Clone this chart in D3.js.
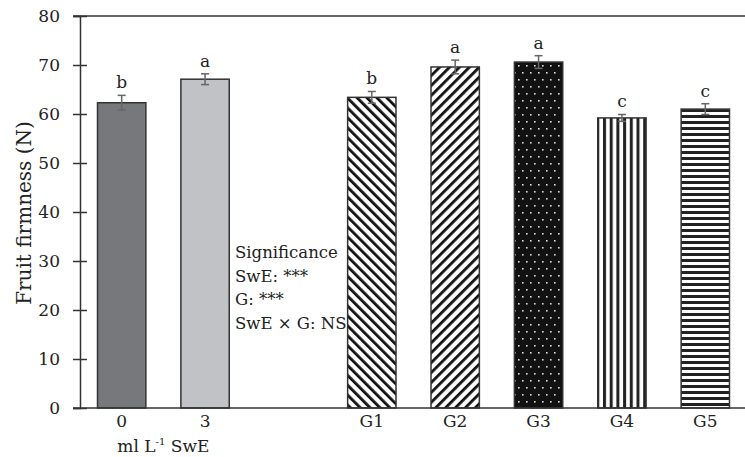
<!DOCTYPE html>
<html>
<head>
<meta charset="utf-8">
<script src="https://cdn.jsdelivr.net/npm/d3@7"></script>
<style>
  body { margin: 0; background: #fff; }
  text { font-family: "DejaVu Serif", serif; fill: #222; }
</style>
</head>
<body>
<svg width="745" height="457"></svg>
<script>
// data
var categories = ["0", "3", "gap", "G1", "G2", "G3", "G4", "G5"];
var tickLabels = ["0", "3", "", "G1", "G2", "G3", "G4", "G5"];
var values = [62.3, 67.1, null, 63.4, 69.6, 70.6, 59.2, 61.0];
var errors = [1.5, 1.1, null, 1.2, 1.4, 1.3, 0.7, 1.1];
var letters = ["b", "a", "", "b", "a", "a", "c", "c"];
var fills = ["#77787c", "#c1c2c5", "none", "url(#diagDown)", "url(#diagUp)", "url(#dots)", "url(#vert)", "url(#horiz)"];
var sigLines = ["Significance", "SwE: ***", "G: ***", "SwE \u00d7 G: NS"];

var svg = d3.select("svg"),
    margin = { top: 16, left: 80, bottom: 49 },
    height = +svg.attr("height") - margin.top - margin.bottom;

var defs = svg.append("defs");

// G1 stripes going down to the right
var p1 = defs.append("pattern").attr("id", "diagDown")
    .attr("patternUnits", "userSpaceOnUse").attr("width", 7).attr("height", 7)
    .attr("patternTransform", "rotate(-45)");
p1.append("rect").attr("width", 7).attr("height", 7).attr("fill", "#fff");
p1.append("rect").attr("width", 2.8).attr("height", 7).attr("fill", "#111");

// G2 stripes going up to the right
var p2 = defs.append("pattern").attr("id", "diagUp")
    .attr("patternUnits", "userSpaceOnUse").attr("width", 7).attr("height", 7)
    .attr("patternTransform", "rotate(45)");
p2.append("rect").attr("width", 7).attr("height", 7).attr("fill", "#fff");
p2.append("rect").attr("width", 2.8).attr("height", 7).attr("fill", "#111");

// G3 black with white dots
var p3 = defs.append("pattern").attr("id", "dots")
    .attr("patternUnits", "userSpaceOnUse").attr("width", 8).attr("height", 14);
p3.append("rect").attr("width", 8).attr("height", 14).attr("fill", "#111");
p3.append("rect").attr("x", 2).attr("y", 2).attr("width", 1.6).attr("height", 1.6).attr("fill", "#ddd");
p3.append("rect").attr("x", 6).attr("y", 9).attr("width", 1.6).attr("height", 1.6).attr("fill", "#ddd");

// G4 vertical stripes
var p4 = defs.append("pattern").attr("id", "vert")
    .attr("patternUnits", "userSpaceOnUse").attr("width", 6.7).attr("height", 10);
p4.append("rect").attr("width", 6.7).attr("height", 10).attr("fill", "#fff");
p4.append("rect").attr("width", 3).attr("height", 10).attr("fill", "#222");

// G5 horizontal stripes
var p5 = defs.append("pattern").attr("id", "horiz")
    .attr("patternUnits", "userSpaceOnUse").attr("width", 10).attr("height", 6)
    .attr("y", 1);
p5.append("rect").attr("width", 10).attr("height", 6).attr("fill", "#fff");
p5.append("rect").attr("width", 10).attr("height", 3).attr("fill", "#222");

var x = d3.scaleBand()
    .domain(categories)
    .range([80, 747])
    .paddingInner(0.42)
    .paddingOuter(0.21);

var y = d3.scaleLinear()
    .domain([0, 80])
    .range([margin.top + height, margin.top]);

var data = categories.map(function(c, i) {
    return { cat: c, value: values[i], err: errors[i], letter: letters[i], fill: fills[i] };
}).filter(function(d) { return d.value != null; });

// frame: top line
svg.append("line")
    .attr("x1", 73).attr("x2", 745)
    .attr("y1", y(80)).attr("y2", y(80))
    .attr("stroke", "#333").attr("stroke-width", 1.5);

// bars
svg.selectAll(".bar")
    .data(data)
    .enter().append("rect")
    .attr("class", "bar")
    .attr("x", function(d) { return x(d.cat); })
    .attr("y", function(d) { return y(d.value); })
    .attr("width", x.bandwidth())
    .attr("height", function(d) { return y(0) - y(d.value); })
    .attr("fill", function(d) { return d.fill; })
    .attr("stroke", "#333")
    .attr("stroke-width", 1.5);

// error bars
var eb = svg.selectAll(".err")
    .data(data)
    .enter().append("g")
    .attr("class", "err")
    .attr("stroke", "#666")
    .attr("stroke-width", 1.5)
    .attr("transform", function(d) { return "translate(" + (x(d.cat) + x.bandwidth() / 2) + ",0)"; });
eb.append("line")
    .attr("y1", function(d) { return y(d.value - d.err); })
    .attr("y2", function(d) { return y(d.value + d.err); });
eb.append("line")
    .attr("x1", -4).attr("x2", 4)
    .attr("y1", function(d) { return y(d.value + d.err); })
    .attr("y2", function(d) { return y(d.value + d.err); });
eb.append("line")
    .attr("x1", -4).attr("x2", 4)
    .attr("y1", function(d) { return y(d.value - d.err); })
    .attr("y2", function(d) { return y(d.value - d.err); });

// letters
svg.selectAll(".letter")
    .data(data)
    .enter().append("text")
    .attr("class", "letter")
    .attr("x", function(d) { return x(d.cat) + x.bandwidth() / 2; })
    .attr("y", function(d) { return y(d.value + d.err) - 7; })
    .attr("text-anchor", "middle")
    .style("font-size", "17px")
    .text(function(d) { return d.letter; });

// y axis
var yAxis = svg.append("g")
    .attr("transform", "translate(80,0)")
    .call(d3.axisLeft(y).tickValues(d3.range(0, 81, 10)).tickSize(7).tickPadding(13));
yAxis.select(".domain").attr("stroke", "#333").attr("stroke-width", 1.5);
yAxis.selectAll(".tick line").attr("x1", -7).attr("x2", 7).attr("stroke", "#333").attr("stroke-width", 1.5);
yAxis.selectAll(".tick text")
    .style("font-family", "'DejaVu Serif', serif")
    .style("font-size", "17px")
    .attr("fill", "#222");

// x axis
var xAxis = svg.append("g")
    .attr("transform", "translate(0," + y(0) + ")")
    .call(d3.axisBottom(x).tickSize(0).tickPadding(7).tickFormat(function(d, i) { return tickLabels[i]; }));
xAxis.select(".domain").remove();
xAxis.selectAll(".tick text")
    .style("font-family", "'DejaVu Serif', serif")
    .style("font-size", "17px")
    .attr("fill", "#222");
svg.append("line")
    .attr("x1", 73).attr("x2", 745)
    .attr("y1", y(0)).attr("y2", y(0))
    .attr("stroke", "#333").attr("stroke-width", 1.5);

// x sub label
var sub = svg.append("text")
    .attr("x", (x("0") + x("3") + x.bandwidth()) / 2)
    .attr("y", 452)
    .attr("text-anchor", "middle")
    .style("font-size", "17px");
sub.append("tspan").text("ml L");
sub.append("tspan").attr("dy", -7).style("font-size", "10px").text("-1");
sub.append("tspan").attr("dy", 7).text(" SwE");

// y label
svg.append("text")
    .attr("transform", "translate(31," + (y(40) + 1) + ") rotate(-90)")
    .attr("text-anchor", "middle")
    .style("font-size", "20px")
    .text("Fruit firmness (N)");

// significance note
svg.selectAll(".sig")
    .data(sigLines)
    .enter().append("text")
    .attr("class", "sig")
    .attr("x", 235)
    .attr("y", function(d, i) { return 258 + i * 23.5; })
    .style("font-size", "16.5px")
    .text(function(d) { return d; });
</script>
</body>
</html>
